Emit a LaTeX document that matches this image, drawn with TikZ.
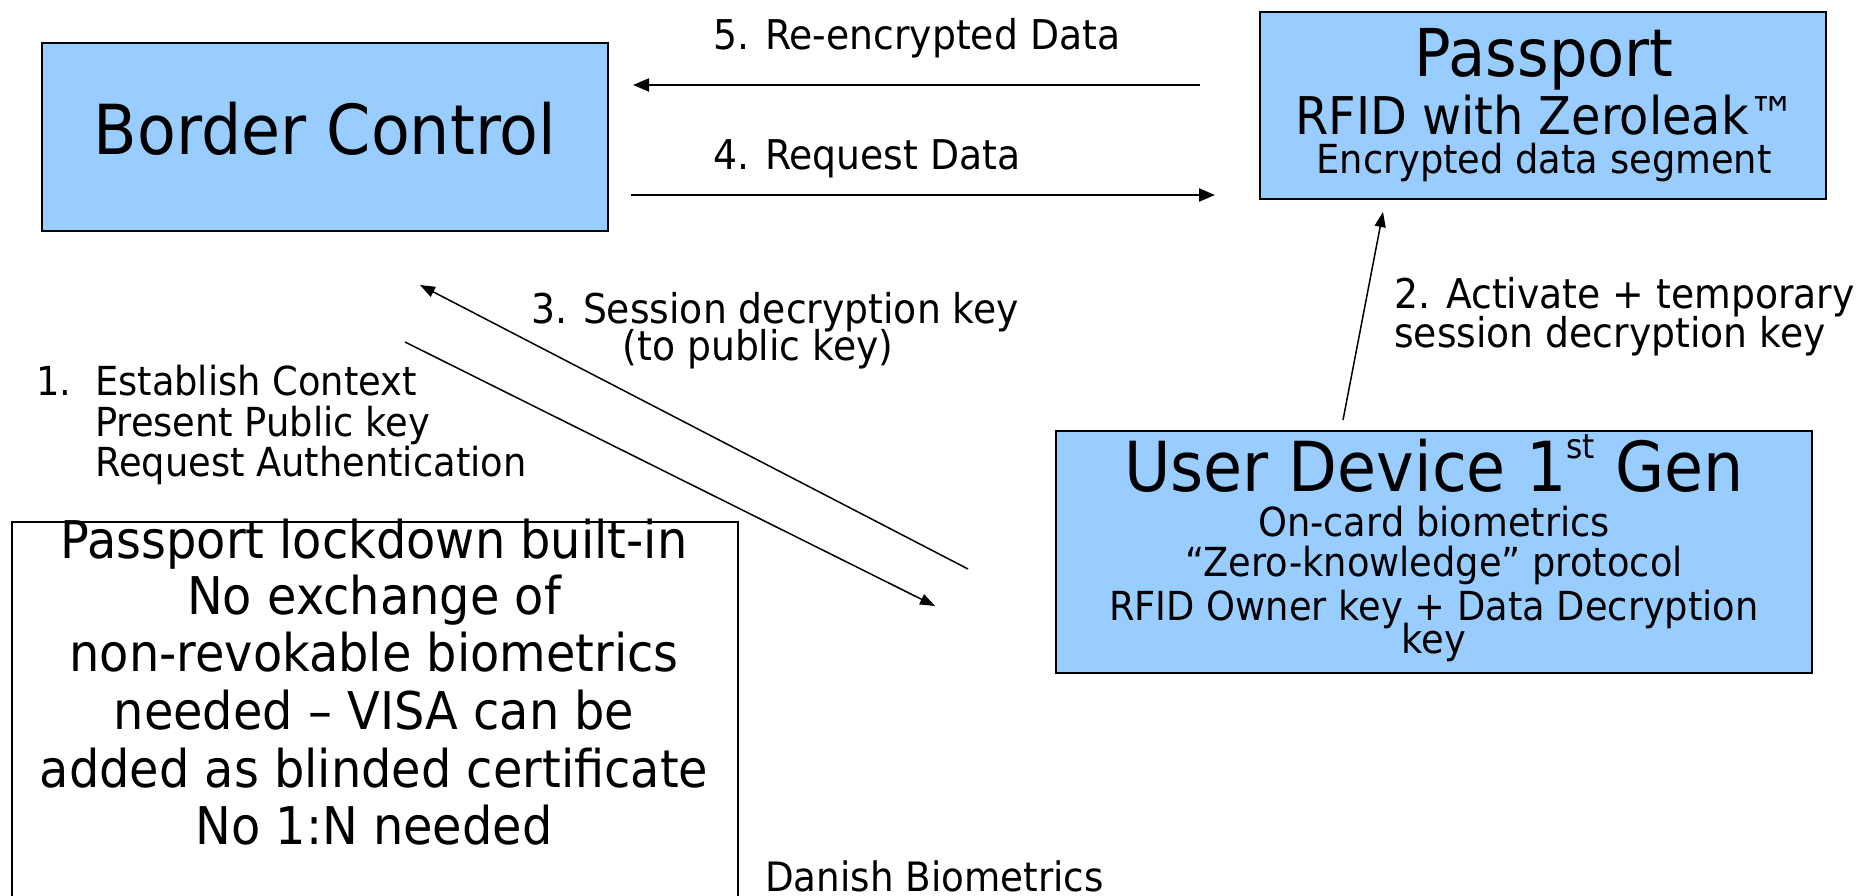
\documentclass[tikz,border=0pt]{standalone}
\usepackage{fontspec}
\setmainfont{DejaVu Sans}[FakeStretch=0.92]
\usetikzlibrary{arrows.meta}
\definecolor{boxblue}{HTML}{99CCFF}
\newcommand{\fs}[1]{\fontsize{#1}{#1}\selectfont}
\tikzset{
  bluebox/.style={draw=black, line width=2pt, fill=boxblue, inner sep=0pt},
  txt/.style={inner sep=0pt, anchor=base},
  txtl/.style={inner sep=0pt, anchor=base west},
  arr/.style={line width=2pt, -{Triangle[length=16pt,width=13pt]}},
  darr/.style={line width=1.5pt, -{Triangle[length=15pt,width=11pt]}}
}
\begin{document}
\begin{tikzpicture}[x=1pt,y=-1pt]
\useasboundingbox (0,0) rectangle (1869,896);
% boxes
\node[bluebox, minimum width=566pt, minimum height=188pt] (bc) at (325,137) {};
\node[bluebox, minimum width=566pt, minimum height=187pt] (pp) at (1543,105.5) {};
\node[bluebox, minimum width=756pt, minimum height=242pt] (ud) at (1434,552) {};
\draw[line width=2pt, fill=white] (12,522) rectangle (738,920);
% texts
\node[txt, font=\fs{69}] (bct) at (325,155) {Border Control};
\node[txt, font=\fs{66}] (ppt1) at (1544,77) {Passport};
\node[txt, font=\fs{52}] (ppt2) at (1546,135) {RFID with Zeroleak™};
\node[txt, font=\fs{40}] (ppt3) at (1544,174) {Encrypted data segment};
\node[txt, font=\fs{69}] (udt1) at (1434,491) {User Device 1\raisebox{33pt}{\fs{34}st} Gen};
\node[txt, font=\fs{40}] (udt2) at (1434,536) {On-card biometrics};
\node[txt, font=\fs{40}] (udt3) at (1434,576) {“Zero-knowledge” protocol};
\node[txt, font=\fs{40}] (udt4) at (1434,620) {RFID Owner key + Data Decryption};
\node[txt, font=\fs{40}] (udt5) at (1434,653) {key};
\node[txt, font=\fs{52}] (lbt1) at (374,558) {Passport lockdown built-in};
\node[txt, font=\fs{52}] (lbt2) at (374,614) {No exchange of};
\node[txt, font=\fs{52}] (lbt3) at (374,671) {non-revokable biometrics};
\node[txt, font=\fs{52}] (lbt4) at (374,729) {needed – VISA can be};
\node[txt, font=\fs{52}] (lbt5) at (374,787) {added as blinded certificate};
\node[txt, font=\fs{52}] (lbt6) at (374,844) {No 1:N needed};
\node[txtl, font=\fs{40.5}] (db) at (765,891) {Danish Biometrics};
% labels
\node[txtl, font=\fs{41}] (l5) at (713,50) {5. Re-encrypted Data};
\node[txtl, font=\fs{41}] (l4) at (713,170) {4. Request Data};
\node[txtl, font=\fs{41}] (l2a) at (1394,308) {2. Activate + temporary};
\node[txtl, font=\fs{41}] (l2b) at (1394,347) {session decryption key};
\node[txt, font=\fs{41}] (l3a) at (775,323) {3. Session decryption key};
\node[txt, font=\fs{41}] (l3b) at (758,360) {(to public key)};
\node[txtl, font=\fs{40}] (l1n) at (36,395) {1.};
\node[txtl, font=\fs{40}] (l1a) at (95,395) {Establish Context};
\node[txtl, font=\fs{40}] (l1b) at (95,436) {Present Public key};
\node[txtl, font=\fs{40}] (l1c) at (95,476) {Request Authentication};
% connector ends
\coordinate (a5s) at (1200,85);
\coordinate (a5e) at (633,85);
\coordinate (a4s) at (631,195);
\coordinate (a4e) at (1215,195);
\coordinate (a2s) at (1343,420);
\coordinate (a2e) at (1383,212);
\coordinate (a3s) at (968,569);
\coordinate (a3e) at (420,285);
\coordinate (a1s) at (405,342);
\coordinate (a1e) at (935,606);
\draw[arr] (a5s) -- (a5e);
\draw[arr] (a4s) -- (a4e);
\draw[darr] (a2s) -- (a2e);
\draw[darr] (a3s) -- (a3e);
\draw[darr] (a1s) -- (a1e);
\end{tikzpicture}
\end{document}
